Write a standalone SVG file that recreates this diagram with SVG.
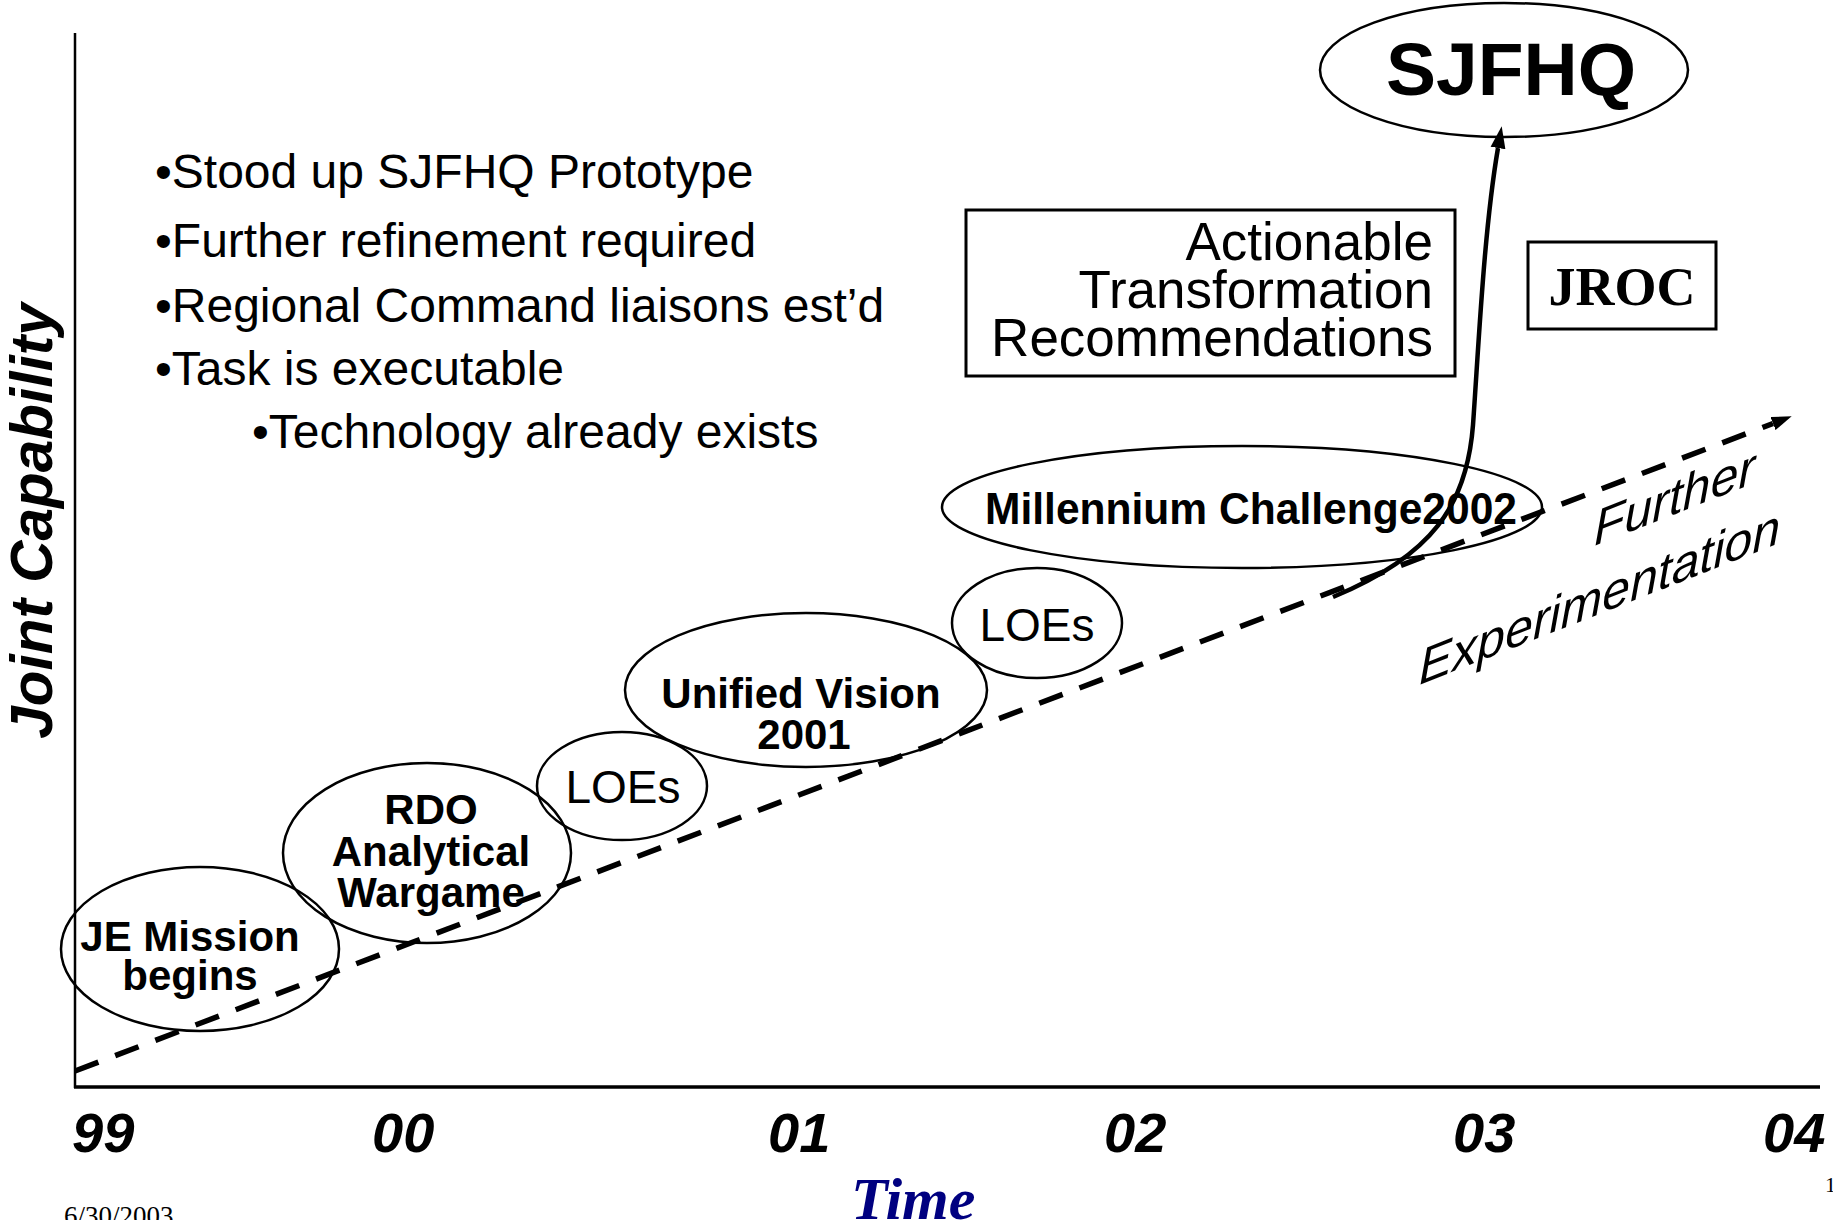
<svg xmlns="http://www.w3.org/2000/svg" width="1833" height="1220" viewBox="0 0 1833 1220">
<style>
.sans{font-family:"Liberation Sans",Arial,sans-serif;fill:#000}
.serif{font-family:"Liberation Serif","Times New Roman",serif}
.b{font-weight:bold}
.node{fill:none;stroke:#000;stroke-width:2.5}
.lbl{font-family:"Liberation Sans",Arial,sans-serif;font-weight:bold;font-size:42px;text-anchor:middle;fill:#000}
.loe{font-family:"Liberation Sans",Arial,sans-serif;font-size:46px;text-anchor:middle;fill:#000}
.bul{font-family:"Liberation Sans",Arial,sans-serif;font-size:48px;fill:#000}
.yr{font-family:"Liberation Sans",Arial,sans-serif;font-weight:bold;font-style:italic;font-size:56px;fill:#000}
.act{font-family:"Liberation Sans",Arial,sans-serif;font-size:53px;text-anchor:end;fill:#000}
.fe{font-family:"Liberation Sans",Arial,sans-serif;font-style:italic;font-size:50px;fill:#000}
</style>
<defs>
<marker id="ah" viewBox="0 -7 20 14" refX="0" refY="0" markerWidth="20" markerHeight="14" orient="auto" markerUnits="userSpaceOnUse"><path d="M0,-7 L20,0 L0,7 z" fill="#000"/></marker>
<marker id="ah2" viewBox="0 -8 22 16" refX="0" refY="0" markerWidth="22" markerHeight="16" orient="auto" markerUnits="userSpaceOnUse"><path d="M0,-7.5 L22,0 L0,7.5 z" fill="#000"/></marker>
</defs>
<rect width="1833" height="1220" fill="#fff"/>

<g id="axes">
<line x1="75" y1="33" x2="75" y2="1088" stroke="#000" stroke-width="2.5"/>
<line x1="74" y1="1087" x2="1820" y2="1087" stroke="#000" stroke-width="3.5"/>
<text class="sans b" font-style="italic" font-size="58.5" text-anchor="middle" transform="translate(52,521) rotate(-90)">Joint Capability</text>
<text class="yr" x="72" y="1152">99</text>
<text class="yr" x="372" y="1152">00</text>
<text class="yr" x="768" y="1152">01</text>
<text class="yr" x="1104" y="1152">02</text>
<text class="yr" x="1453" y="1152">03</text>
<text class="yr" x="1763" y="1152">04</text>
<text class="serif" font-weight="bold" font-style="italic" font-size="60" fill="#000080" x="851" y="1219">Time</text>
<text class="serif" font-size="27" fill="#000" x="64" y="1225">6/30/2003</text>
<text class="serif" font-size="22" fill="#000" x="1825" y="1192">1</text>
</g>

<g id="notes">
<text class="bul" x="155" y="188">•Stood up SJFHQ Prototype</text>
<text class="bul" x="155" y="257">•Further refinement required</text>
<text class="bul" x="155" y="322">•Regional Command liaisons est’d</text>
<text class="bul" x="155" y="385">•Task is executable</text>
<text class="bul" x="252" y="448">•Technology already exists</text>
</g>

<g id="connectors">
<line x1="75" y1="1071" x2="1773" y2="423.5" stroke="#000" stroke-width="5.5" stroke-dasharray="25 18" marker-end="url(#ah)"/>
<path d="M1333,597 C1432,556 1467,505 1473,425 C1479,340 1484,230 1498,148" fill="none" stroke="#000" stroke-width="4.5" marker-end="url(#ah2)"/>
</g>

<g id="je-mission">
<ellipse class="node" cx="200" cy="949" rx="139" ry="82"/>
<text class="lbl" x="190" y="951">JE Mission</text>
<text class="lbl" x="190" y="990">begins</text>
</g>

<g id="rdo">
<ellipse class="node" cx="427" cy="853" rx="144" ry="90"/>
<text class="lbl" x="431" y="824">RDO</text>
<text class="lbl" x="431" y="866">Analytical</text>
<text class="lbl" x="431" y="907">Wargame</text>
</g>

<g id="loes-1">
<ellipse class="node" cx="622" cy="786" rx="85" ry="54"/>
<text class="loe" x="623" y="803">LOEs</text>
</g>

<g id="unified-vision">
<ellipse class="node" cx="806" cy="690" rx="181" ry="77"/>
<text class="lbl" x="801" y="708">Unified Vision</text>
<text class="lbl" x="804" y="749">2001</text>
</g>

<g id="loes-2">
<ellipse class="node" cx="1037" cy="623" rx="85" ry="55"/>
<text class="loe" x="1037" y="641">LOEs</text>
</g>

<g id="millennium-challenge">
<ellipse class="node" cx="1242" cy="507" rx="300" ry="61"/>
<text class="sans b" font-size="44" x="985" y="524" textLength="532" lengthAdjust="spacingAndGlyphs">Millennium Challenge2002</text>
</g>

<g id="actionable">
<rect x="966" y="210" width="489" height="166" fill="none" stroke="#000" stroke-width="3"/>
<text class="act" x="1433" y="260">Actionable</text>
<text class="act" x="1433" y="308">Transformation</text>
<text class="act" x="1433" y="356">Recommendations</text>
</g>

<g id="jroc">
<rect x="1528" y="242" width="188" height="87" fill="none" stroke="#000" stroke-width="3"/>
<text class="serif" font-weight="bold" font-size="54" text-anchor="middle" fill="#000" x="1622" y="305">JROC</text>
</g>

<g id="sjfhq">
<ellipse class="node" cx="1504" cy="70" rx="184" ry="67"/>
<text class="sans b" font-size="75" text-anchor="middle" x="1511" y="95">SJFHQ</text>
</g>

<g id="further-experimentation" transform="translate(1419,685) skewY(-21.5)">
<text class="fe" x="175" y="-70">Further</text>
<text class="fe" x="0" y="0">Experimentation</text>
</g>
</svg>
